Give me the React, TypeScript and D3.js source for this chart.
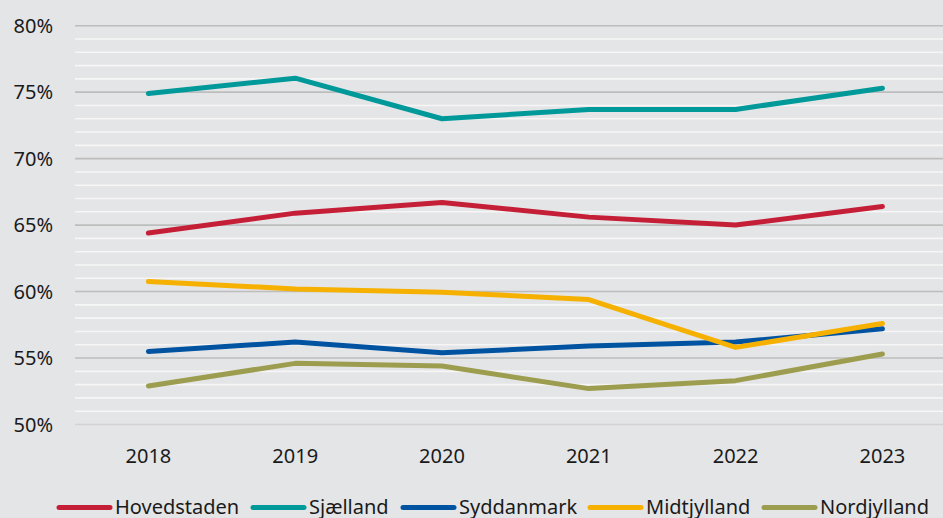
import React from "react";
import * as d3 from "d3";

const years = ["2018", "2019", "2020", "2021", "2022", "2023"];
const hovedstaden = [64.4, 65.9, 66.7, 65.6, 65.0, 66.4];
const sjaelland = [74.9, 76.05, 73.0, 73.7, 73.7, 75.3];
const syddanmark = [55.5, 56.2, 55.4, 55.9, 56.2, 57.2];
const midtjylland = [60.75, 60.2, 59.95, 59.4, 55.8, 57.6];
const nordjylland = [52.9, 54.6, 54.4, 52.7, 53.3, 55.3];
const yTicks = [50, 55, 60, 65, 70, 75, 80];
const minorTicks = d3.range(50, 81, 1);

const seriesNames = ["Hovedstaden", "Sjælland", "Syddanmark", "Midtjylland", "Nordjylland"];
const seriesValues = [hovedstaden, sjaelland, syddanmark, midtjylland, nordjylland];
const seriesColors = ["#c51f38", "#00999a", "#0053a0", "#f6b100", "#9d9d4f"];

const W = 943;
const H = 518;
const left = 75;
const bandW = 146.8;
const font = "'Noto Sans', 'Open Sans', sans-serif";

export default function App() {
  const x = d3
    .scaleBand<string>()
    .domain(years)
    .range([left, left + bandW * years.length]);
  const y = d3.scaleLinear().domain([50, 80]).range([424.5, 25.7]);
  const line = d3
    .line<number>()
    .x((_, i) => (x(years[i]) as number) + x.bandwidth() / 2)
    .y((d) => y(d));

  const legendX = [57, 251, 401, 588, 762];

  return (
    <svg
      width={W}
      height={H}
      style={{ position: "absolute", left: 0, top: 0, background: "#e4e5e7" }}
    >
      <rect x={0} y={0} width={W} height={H} fill="#e4e5e7" />
      {minorTicks
        .filter((t) => t % 5 !== 0)
        .map((t) => (
          <line key={"m" + t} x1={left} x2={W} y1={y(t)} y2={y(t)} stroke="#f6f6f6" strokeWidth={1.6} />
        ))}
      {yTicks.map((t) => (
        <line
          key={"g" + t}
          x1={left}
          x2={W}
          y1={y(t)}
          y2={y(t)}
          stroke={t === 50 ? "#d2d2d2" : "#bdbdbd"}
          strokeWidth={1.6}
        />
      ))}
      {yTicks.map((t) => (
        <text
          key={"yl" + t}
          x={53}
          y={y(t) + 7}
          textAnchor="end"
          fontFamily={font}
          fontSize={20}
          fill="#1a1a1a"
        >
          {t + "%"}
        </text>
      ))}
      {years.map((yr) => (
        <text
          key={"xl" + yr}
          x={(x(yr) as number) + x.bandwidth() / 2}
          y={463}
          textAnchor="middle"
          fontFamily={font}
          fontSize={20}
          fill="#1a1a1a"
        >
          {yr}
        </text>
      ))}
      {seriesValues.map((vals, i) => (
        <path
          key={"s" + i}
          d={line(vals) as string}
          fill="none"
          stroke={seriesColors[i]}
          strokeWidth={5}
          strokeLinecap="round"
          strokeLinejoin="round"
        />
      ))}
      {seriesNames.map((n, i) => (
        <g key={"lg" + i}>
          <line
            x1={legendX[i] + 2}
            x2={legendX[i] + 53}
            y1={507.5}
            y2={507.5}
            stroke={seriesColors[i]}
            strokeWidth={5}
            strokeLinecap="round"
          />
          <text x={legendX[i] + 58} y={514} fontFamily={font} fontSize={20} fill="#1a1a1a">
            {n}
          </text>
        </g>
      ))}
    </svg>
  );
}
